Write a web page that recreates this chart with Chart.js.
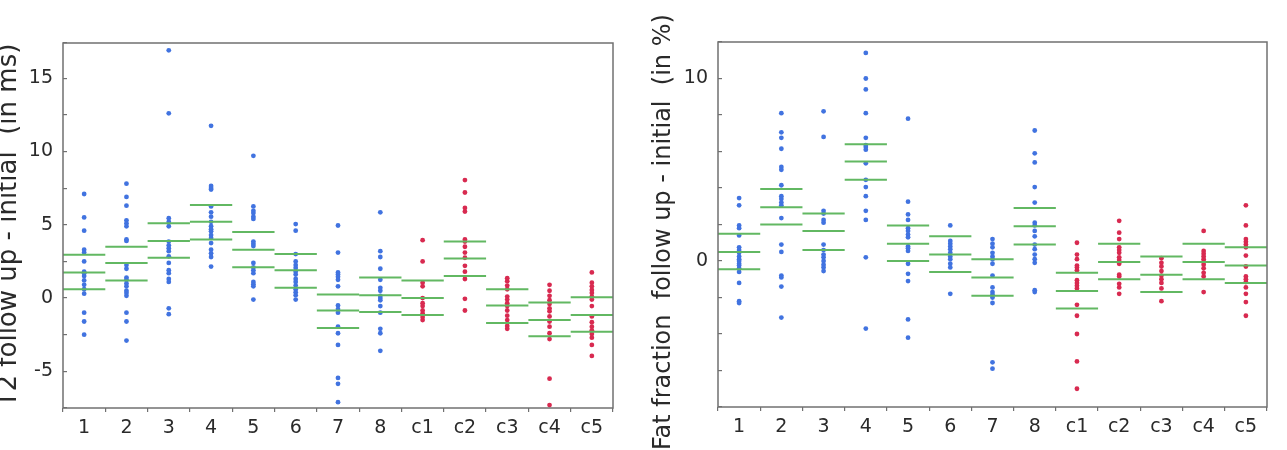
<!DOCTYPE html>
<html>
<head>
<meta charset="utf-8">
<script src="https://cdn.jsdelivr.net/npm/chart.js@4.4.1/dist/chart.umd.min.js"></script>
<style>
  html, body { margin: 0; padding: 0; background: #fff; overflow: hidden; }
  body { width: 1287px; height: 450px; position: relative; }
  canvas { position: absolute; top: 0; }
  #t2Chart { left: -6px; }
  #ffChart { left: 640px; }
</style>
</head>
<body>
<canvas id="t2Chart" width="646" height="450"></canvas>
<canvas id="ffChart" width="647" height="450"></canvas>
<script>
// categories: 8 patients, 5 controls (c1..c5 are drawn in red)
const categories = ["1", "2", "3", "4", "5", "6", "7", "8", "c1", "c2", "c3", "c4", "c5"];
const controlStart = 8;

// T2 follow up - initial (ms), one list of measurements per category
const t2Points = [
  [7.1, 5.5, 4.6, 3.3, 3.1, 2.5, 1.8, 1.7, 1.5, 1.2, 0.9, 0.6, 0.3, -1.0, -1.6, -2.5],
  [7.8, 6.9, 6.3, 5.3, 5.1, 4.9, 4.0, 3.9, 2.25, 2.0, 1.4, 1.25, 1.0, 0.8, 0.5, 0.35, 0.15, -1.0, -1.6, -2.9],
  [16.9, 12.6, 5.45, 5.2, 4.9, 3.85, 3.6, 3.4, 3.2, 2.85, 2.4, 1.9, 1.7, 1.3, 1.1, -0.7, -1.1],
  [11.75, 7.65, 7.5, 7.4, 6.25, 5.85, 5.55, 5.2, 4.9, 4.7, 4.55, 4.3, 4.1, 3.75, 3.3, 3.05, 2.8, 2.15],
  [9.7, 6.25, 5.95, 5.8, 5.55, 5.4, 3.85, 3.7, 3.55, 2.4, 2.1, 1.9, 1.7, 1.1, 0.95, 0.8, -0.1],
  [5.05, 4.6, 3.0, 2.5, 2.25, 2.05, 1.8, 1.6, 1.3, 1.1, 0.85, 0.6, 0.4, 0.2, -0.1],
  [4.95, 3.1, 1.75, 1.6, 1.45, 1.25, 0.8, -0.5, -0.75, -1.0, -1.95, -2.4, -3.2, -5.45, -5.85, -7.1],
  [5.85, 3.2, 2.8, 2.0, 1.25, 0.7, 0.5, 0.15, 0.0, -0.15, -0.55, -1.0, -2.1, -2.4, -3.6],
  [3.95, 2.5, 1.05, 0.8, 0.0, -0.35, -0.55, -0.85, -1.05, -1.3, -1.5],
  [8.05, 7.2, 6.15, 5.9, 4.0, 3.85, 3.5, 3.1, 2.75, 2.2, 1.8, 1.3, -0.05, -0.85],
  [1.35, 1.15, 0.85, 0.6, 0.1, -0.1, -0.35, -0.55, -0.85, -1.2, -1.5, -1.9, -2.1],
  [0.9, 0.5, 0.15, -0.15, -0.4, -0.7, -0.9, -1.25, -1.6, -1.95, -2.4, -2.8, -5.5, -7.3],
  [1.75, 1.05, 0.8, 0.55, 0.35, 0.1, -0.1, -0.55, -1.25, -1.65, -1.95, -2.2, -2.45, -2.7, -3.2, -3.95]
];
const t2Upper = [2.95, 3.5, 5.1, 6.35, 4.5, 3.0, 0.25, 1.4, 1.2, 3.85, 0.6, -0.3, 0.05];
const t2Mean = [1.75, 2.4, 3.9, 5.2, 3.3, 1.9, -0.85, 0.2, 0.0, 2.7, -0.5, -1.5, -1.15];
const t2Lower = [0.6, 1.2, 2.75, 4.0, 2.1, 0.7, -2.05, -0.95, -1.15, 1.5, -1.7, -2.6, -2.3];

// fat fraction follow up - initial (%)
const ffPoints = [
  [3.45, 3.05, 1.95, 1.8, 1.4, 0.75, 0.6, 0.45, 0.25, 0.1, 0.0, -0.15, -0.25, -0.4, -0.6, -1.2, -2.2, -2.3],
  [8.1, 7.05, 6.75, 6.15, 5.15, 5.0, 4.15, 3.55, 3.4, 3.2, 3.05, 2.35, 0.9, 0.5, -0.8, -0.9, -1.4, -3.1],
  [8.2, 6.8, 2.75, 2.6, 2.25, 2.1, 0.9, 0.6, 0.35, 0.2, 0.0, -0.2, -0.35, -0.55],
  [11.4, 10.0, 9.4, 8.1, 6.75, 6.35, 6.25, 6.1, 5.35, 4.45, 4.05, 3.55, 2.75, 2.25, 0.2, -3.7],
  [7.8, 3.25, 2.55, 2.25, 1.8, 1.65, 1.45, 1.3, 0.8, 0.7, 0.55, -0.15, -0.7, -1.1, -3.2, -4.2],
  [1.95, 1.1, 0.95, 0.8, 0.65, 0.45, 0.25, 0.1, -0.15, -0.35, -1.8],
  [1.2, 0.95, 0.75, 0.45, 0.25, 0.1, -0.15, -0.8, -1.45, -1.7, -1.85, -2.0, -2.3, -5.55, -5.9],
  [7.15, 5.9, 5.4, 4.05, 3.2, 2.1, 1.95, 1.65, 1.35, 0.9, 0.65, 0.35, 0.1, -0.1, -1.6, -1.7],
  [1.0, 0.35, 0.1, -0.25, -0.35, -0.5, -1.05, -1.2, -1.35, -1.5, -2.4, -3.0, -4.0, -5.5, -7.0],
  [2.2, 1.55, 1.2, 0.75, 0.6, 0.45, 0.2, 0.05, -0.15, -0.75, -0.85, -1.25, -1.45, -1.8],
  [0.15, -0.1, -0.3, -0.55, -0.8, -1.0, -1.2, -1.5, -2.2],
  [1.65, 0.55, 0.4, 0.25, 0.1, -0.05, -0.2, -0.4, -0.65, -0.85, -1.7],
  [3.05, 1.95, 1.2, 1.05, 0.9, 0.75, 0.3, -0.3, -0.85, -1.0, -1.15, -1.45, -1.8, -2.25, -3.0]
];
const ffUpper = [1.5, 3.95, 2.6, 6.4, 1.95, 1.35, 0.1, 2.9, -0.65, 0.95, 0.25, 0.95, 0.75];
const ffMean = [0.5, 2.95, 1.65, 5.45, 0.95, 0.35, -0.9, 1.9, -1.65, -0.05, -0.75, -0.05, -0.25];
const ffLower = [-0.45, 2.0, 0.6, 4.45, 0.0, -0.6, -1.9, 0.9, -2.6, -1.0, -1.7, -1.0, -1.2];

const blue = "#4173e0";
const red = "#d82a50";
const green = "#62b862";
const axisGray = "#707070";
const textColor = "#2a2a2a";
const tickFont = { family: "'DejaVu Sans', sans-serif", size: 19 };

// box around the plot area
const framePlugin = {
  id: "frame",
  afterDatasetsDraw(chart) {
    const { ctx, chartArea: a } = chart;
    ctx.save();
    ctx.strokeStyle = axisGray;
    ctx.lineWidth = 1.5;
    ctx.strokeRect(a.left, a.top, a.right - a.left, a.bottom - a.top);
    ctx.restore();
  }
};

function pointSeries(groups, from, to) {
  const out = [];
  groups.forEach((values, i) => {
    if (i < from || i >= to) return;
    values.forEach((v) => out.push({ x: i + 1, y: v }));
  });
  return out;
}

// one horizontal segment across each category slot
function segmentSeries(levels) {
  const out = [];
  levels.forEach((v, i) => {
    out.push({ x: i + 0.5, y: v }, { x: i + 1.5, y: v }, { x: i + 1.5, y: null });
  });
  return out;
}

function lineDataset(levels) {
  return {
    type: "line",
    data: segmentSeries(levels),
    borderColor: green,
    borderWidth: 2,
    pointRadius: 0,
    spanGaps: false,
    fill: false
  };
}

function dotDataset(points, color) {
  return {
    type: "scatter",
    data: points,
    backgroundColor: color,
    borderColor: color,
    borderWidth: 0,
    pointRadius: 2.4
  };
}

function buildPanel(id, cfg) {
  const ctx = document.getElementById(id).getContext("2d");
  const n = categories.length;

  new Chart(ctx, {
    type: "scatter",
    data: {
      datasets: [
        lineDataset(cfg.upper),
        lineDataset(cfg.mean),
        lineDataset(cfg.lower),
        dotDataset(pointSeries(cfg.points, 0, controlStart), blue),
        dotDataset(pointSeries(cfg.points, controlStart, n), red)
      ]
    },
    options: {
      responsive: false,
      animation: false,
      layout: { padding: cfg.padding },
      plugins: {
        legend: { display: false },
        tooltip: { enabled: false }
      },
      scales: {
        x: { type: "linear", display: false, min: 0.5, max: n + 0.5 },
        xLabels: {
          type: "category",
          labels: categories,
          position: "bottom",
          offset: true,
          grid: { offset: true, drawOnChartArea: false, tickLength: 4, color: axisGray, lineWidth: 1.2 },
          border: { display: false },
          ticks: { color: textColor, font: tickFont, padding: 5, maxRotation: 0, autoSkip: false },
          afterFit(scale) { scale.height = cfg.xHeight; }
        },
        y: {
          type: "linear",
          position: "left",
          min: cfg.min,
          max: cfg.max,
          grid: { drawOnChartArea: false, tickLength: -4, color: axisGray, lineWidth: 1.2 },
          border: { display: false },
          ticks: {
            stepSize: cfg.step,
            color: textColor,
            font: tickFont,
            padding: 14,
            callback(v) {
              return Math.abs(v % cfg.labelEvery) < 1e-9 ? String(v) : "";
            }
          },
          title: {
            display: true,
            text: cfg.title,
            color: textColor,
            font: { family: "'DejaVu Sans', sans-serif", size: cfg.titleSize },
            padding: { top: 0, bottom: 0 }
          },
          afterFit(scale) { scale.width = cfg.yWidth; }
        }
      }
    },
    plugins: [framePlugin]
  });
}

buildPanel("t2Chart", {
  points: t2Points, upper: t2Upper, mean: t2Mean, lower: t2Lower,
  min: -7.5, max: 17.4, step: 2.5, labelEvery: 5,
  title: "T2 follow up - initial  (in ms)", titleSize: 26,
  padding: { top: 43, right: 27, left: 0, bottom: 0 },
  yWidth: 69, xHeight: 42
});

buildPanel("ffChart", {
  points: ffPoints, upper: ffUpper, mean: ffMean, lower: ffLower,
  min: -8, max: 12, step: 2, labelEvery: 10,
  title: "Fat fraction  follow up - initial  (in %)  ", titleSize: 24,
  padding: { top: 42, right: 20, left: 9, bottom: 0 },
  yWidth: 69, xHeight: 43
});
</script>
</body>
</html>
